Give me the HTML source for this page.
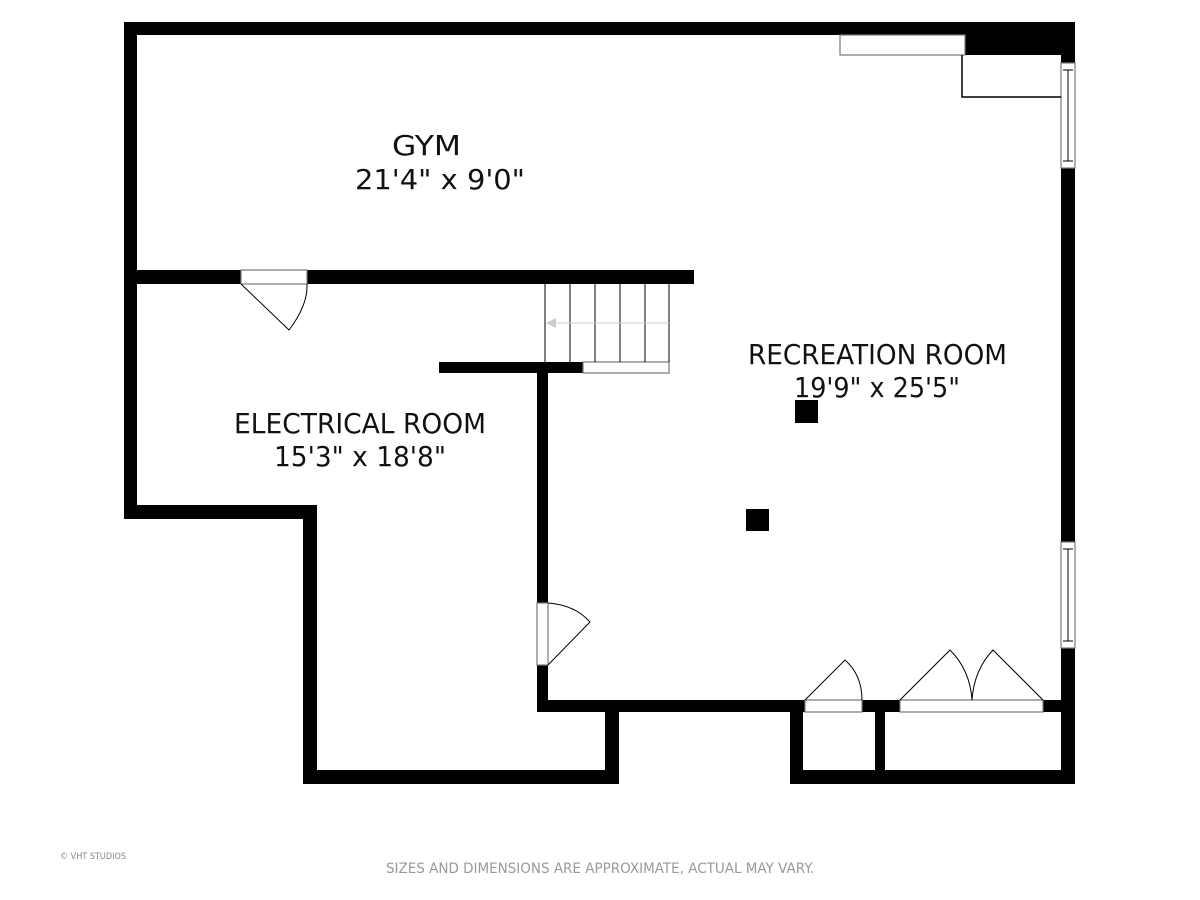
<!DOCTYPE html>
<html><head><meta charset="utf-8"><style>
html,body{margin:0;padding:0;background:#fff;width:1200px;height:900px;overflow:hidden}
svg{display:block}
.t{font-family:"DejaVu Sans","Liberation Sans",sans-serif;font-size:28px;fill:#111}
</style></head><body>
<svg width="1200" height="900" viewBox="0 0 1200 900" xmlns="http://www.w3.org/2000/svg">
<g fill="#000">
<rect x="124" y="22" width="951" height="13"/>
<rect x="965" y="22" width="110" height="33"/>
<rect x="124" y="22" width="13" height="497"/>
<rect x="124" y="505" width="193" height="14"/>
<rect x="303" y="505" width="14" height="279"/>
<rect x="303" y="770" width="316" height="14"/>
<rect x="605" y="700" width="14" height="84"/>
<rect x="1061" y="22" width="14" height="762"/>
<rect x="124" y="270" width="570" height="14"/>
<rect x="439" y="362" width="144" height="11"/>
<rect x="537" y="365" width="11" height="347"/>
<rect x="537" y="700" width="538" height="12"/>
<rect x="790" y="700" width="13" height="84"/>
<rect x="875" y="700" width="10" height="84"/>
<rect x="790" y="770" width="285" height="14"/>
<rect x="795" y="400" width="23" height="23"/>
<rect x="746" y="509" width="23" height="22"/>
</g>
<g fill="#fff" stroke="#777" stroke-width="1.2">
<rect x="840" y="35" width="125" height="20"/>
<rect x="241" y="270" width="66" height="14"/>
<rect x="583" y="362" width="86" height="11"/>
<rect x="537" y="603" width="11" height="62"/>
<rect x="805" y="700" width="57" height="12"/>
<rect x="900" y="700" width="143" height="12"/>
<rect x="1061" y="63" width="14" height="105"/>
<rect x="1061" y="542" width="14" height="106"/>
</g>
<g fill="none" stroke="#000" stroke-width="1">
<line x1="1063" y1="70" x2="1073" y2="70"/><line x1="1063" y1="161" x2="1073" y2="161"/><line x1="1068" y1="70" x2="1068" y2="161"/>
<line x1="1063" y1="549" x2="1073" y2="549"/><line x1="1063" y1="641" x2="1073" y2="641"/><line x1="1068" y1="549" x2="1068" y2="641"/>
<polyline points="962,55 962,97 1061,97" stroke-width="1.5"/>
<path d="M241 284 L289 330 Q308 305 307 284"/>
<path d="M548 665 L590 622 Q575 605 548 603"/>
<path d="M805 700 L845 660 Q862 675 862 700"/>
<path d="M900 700 L950 650 Q970 670 972 700 Q974 670 993 650 L1043 700"/>
<line x1="545" y1="284" x2="545" y2="362"/>
<line x1="570" y1="284" x2="570" y2="362"/>
<line x1="595" y1="284" x2="595" y2="362"/>
<line x1="620" y1="284" x2="620" y2="362"/>
<line x1="645" y1="284" x2="645" y2="362"/>
<line x1="669" y1="284" x2="669" y2="362"/>
</g>
<line x1="552" y1="323" x2="669" y2="323" stroke="#ccc" stroke-width="1"/>
<polygon points="546,323 556,318 556,328" fill="#ccc"/>
<text class="t" x="392" y="155" textLength="69" lengthAdjust="spacingAndGlyphs">GYM</text>
<text class="t" x="355" y="189" textLength="170" lengthAdjust="spacingAndGlyphs">21'4" x 9'0"</text>
<text class="t" x="748" y="364" textLength="259" lengthAdjust="spacingAndGlyphs">RECREATION ROOM</text>
<text class="t" x="794" y="397" textLength="166" lengthAdjust="spacingAndGlyphs">19'9" x 25'5"</text>
<text class="t" x="234" y="433" textLength="252" lengthAdjust="spacingAndGlyphs">ELECTRICAL ROOM</text>
<text class="t" x="274" y="466" textLength="172" lengthAdjust="spacingAndGlyphs">15'3" x 18'8"</text>
<text x="60" y="859" font-family="DejaVu Sans,sans-serif" font-size="9" fill="#888" textLength="66" lengthAdjust="spacingAndGlyphs">© VHT STUDIOS</text>
<text x="386" y="873" font-family="DejaVu Sans,sans-serif" font-size="14" fill="#999" textLength="428" lengthAdjust="spacingAndGlyphs">SIZES AND DIMENSIONS ARE APPROXIMATE, ACTUAL MAY VARY.</text>
</svg>
</body></html>
